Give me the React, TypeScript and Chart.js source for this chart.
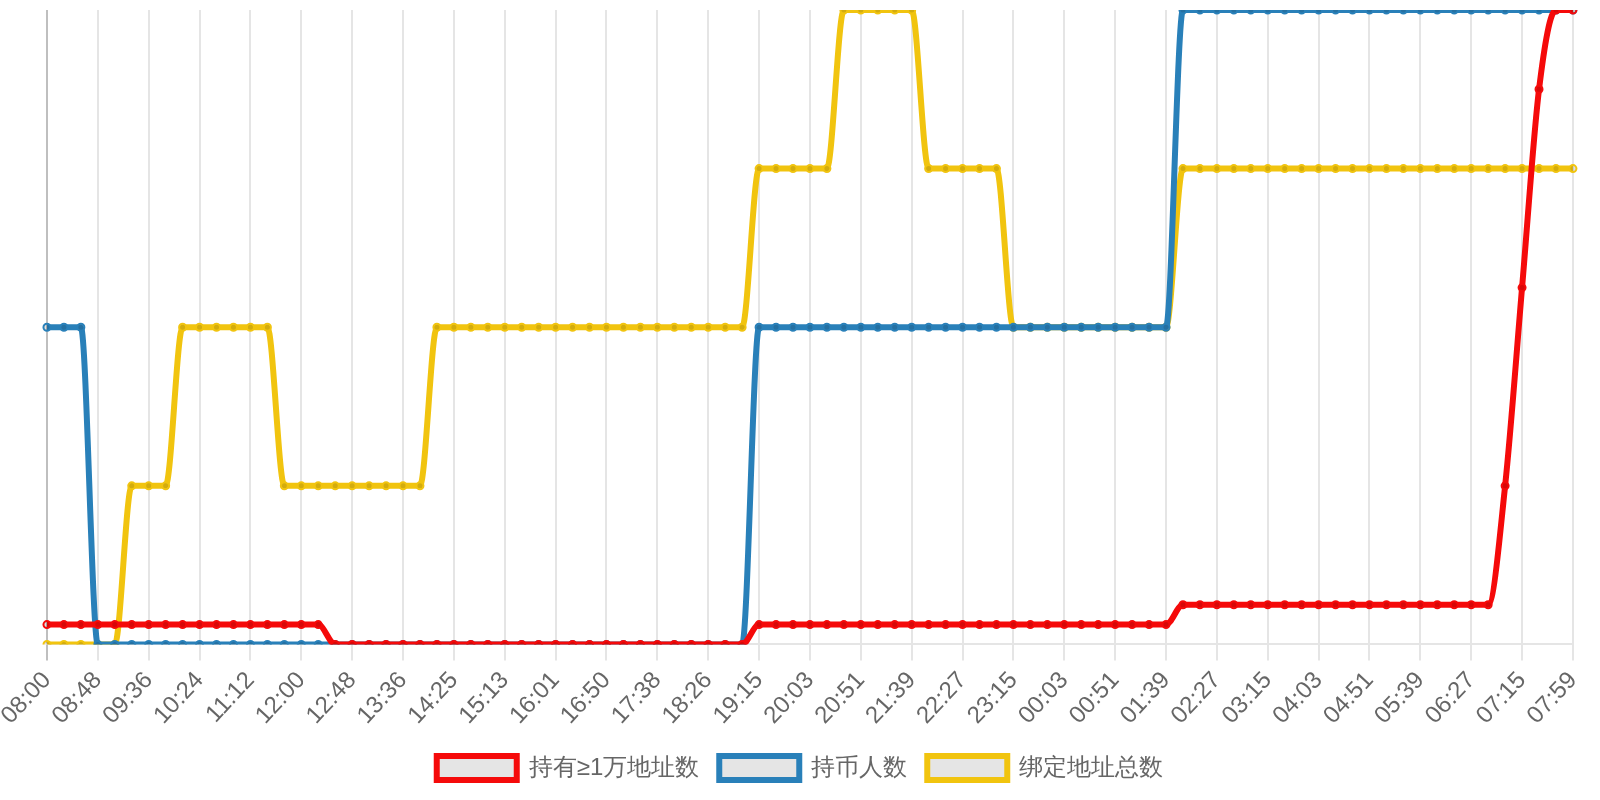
import React, { useEffect, useRef } from 'react';
import { Chart, registerables } from 'chart.js';

Chart.register(...registerables);

// time labels, one point every ~16 minutes over 24h
const timeLabels = [
  '08:00', '08:16', '08:32', '08:48', '09:04', '09:20', '09:36', '09:52', '10:08',
  '10:24', '10:40', '10:56', '11:12', '11:28', '11:44', '12:00', '12:16', '12:32',
  '12:48', '13:04', '13:20', '13:36', '13:52', '14:09', '14:25', '14:41', '14:57',
  '15:13', '15:29', '15:45', '16:01', '16:17', '16:34', '16:50', '17:06', '17:22',
  '17:38', '17:54', '18:10', '18:26', '18:42', '18:59', '19:15', '19:31', '19:47',
  '20:03', '20:19', '20:35', '20:51', '21:07', '21:23', '21:39', '21:55', '22:11',
  '22:27', '22:43', '22:59', '23:15', '23:31', '23:47', '00:03', '00:19', '00:35',
  '00:51', '01:07', '01:23', '01:39', '01:55', '02:11', '02:27', '02:43', '02:59',
  '03:15', '03:31', '03:47', '04:03', '04:19', '04:35', '04:51', '05:07', '05:23',
  '05:39', '05:55', '06:11', '06:27', '06:43', '06:59', '07:15', '07:30', '07:44',
  '07:59',
];

const seriesNames = ['持有≥1万地址数', '持币人数', '绑定地址总数'];

// 持有≥1万地址数
const bigHolders = [
  163, 163, 163, 163, 163, 163, 163, 163, 163, 163, 163, 163, 163, 163, 163, 163, 163,
  162, 162, 162, 162, 162, 162, 162, 162, 162, 162, 162, 162, 162, 162, 162, 162, 162,
  162, 162, 162, 162, 162, 162, 162, 162,
  163, 163, 163, 163, 163, 163, 163, 163, 163, 163, 163, 163, 163, 163, 163, 163, 163,
  163, 163, 163, 163, 163, 163, 163, 163,
  164, 164, 164, 164, 164, 164, 164, 164, 164, 164, 164, 164, 164, 164, 164, 164, 164,
  164, 164,
  170, 180, 190, 194, 194,
];

// 持币人数
const holders = [
  1188, 1188, 1188,
  1187, 1187, 1187, 1187, 1187, 1187, 1187, 1187, 1187, 1187, 1187, 1187, 1187, 1187,
  1187, 1187, 1187, 1187, 1187, 1187, 1187, 1187, 1187, 1187, 1187, 1187, 1187, 1187,
  1187, 1187, 1187, 1187, 1187, 1187, 1187, 1187, 1187, 1187, 1187,
  1188, 1188, 1188, 1188, 1188, 1188, 1188, 1188, 1188, 1188, 1188, 1188, 1188, 1188,
  1188, 1188, 1188, 1188, 1188, 1188, 1188, 1188, 1188, 1188, 1188,
  1189, 1189, 1189, 1189, 1189, 1189, 1189, 1189, 1189, 1189, 1189, 1189, 1189, 1189,
  1189, 1189, 1189, 1189, 1189, 1189, 1189, 1189, 1189, 1189,
];

// 绑定地址总数
const boundTotal = [
  2046, 2046, 2046, 2046, 2046,
  2047, 2047, 2047,
  2048, 2048, 2048, 2048, 2048, 2048,
  2047, 2047, 2047, 2047, 2047, 2047, 2047, 2047, 2047,
  2048, 2048, 2048, 2048, 2048, 2048, 2048, 2048, 2048, 2048, 2048, 2048, 2048, 2048,
  2048, 2048, 2048, 2048, 2048,
  2049, 2049, 2049, 2049, 2049,
  2050, 2050, 2050, 2050, 2050,
  2049, 2049, 2049, 2049, 2049,
  2048, 2048, 2048, 2048, 2048, 2048, 2048, 2048, 2048, 2048,
  2049, 2049, 2049, 2049, 2049, 2049, 2049, 2049, 2049, 2049, 2049, 2049, 2049, 2049,
  2049, 2049, 2049, 2049, 2049, 2049, 2049, 2049, 2049, 2049,
];

const seriesColors = ['#f50a0a', '#2980b9', '#f1c40f'];

function makeDataset(label: string, data: number[], color: string, axis: string) {
  return {
    label,
    data,
    yAxisID: axis,
    borderColor: color,
    backgroundColor: 'rgba(0,0,0,0.1)',
    borderWidth: 6,
    fill: false,
    cubicInterpolationMode: 'monotone' as const,
    pointRadius: 3.5,
    pointBorderWidth: 2,
    pointBorderColor: color,
    pointBackgroundColor: 'rgba(0,0,0,0.12)',
  };
}

function hiddenAxis(data: number[]) {
  return { display: false, min: Math.min(...data), max: Math.max(...data) };
}

function HoldersChart() {
  const canvasRef = useRef<HTMLCanvasElement>(null);
  useEffect(() => {
    if (!canvasRef.current) return;
    const chart = new Chart(canvasRef.current, {
      type: 'line',
      data: {
        labels: timeLabels,
        datasets: [
          makeDataset(seriesNames[0], bigHolders, seriesColors[0], 'y0'),
          makeDataset(seriesNames[1], holders, seriesColors[1], 'y1'),
          makeDataset(seriesNames[2], boundTotal, seriesColors[2], 'y2'),
        ],
      },
      options: {
        animation: false,
        responsive: true,
        maintainAspectRatio: false,
        layout: { padding: { top: 10, bottom: 10 } },
        plugins: {
          tooltip: { enabled: false },
          legend: {
            position: 'bottom',
            labels: {
              color: '#666',
              font: { size: 24 },
              boxWidth: 80,
              boxHeight: 24,
              padding: 20,
            },
          },
        },
        scales: {
          x: {
            grid: {
              color: (ctx: any) =>
                ctx.index === 0 ? 'rgba(0,0,0,0.25)' : ctx.index % 3 === 0 ? 'rgba(0,0,0,0.1)' : 'rgba(0,0,0,0)',
              lineWidth: 2,
              tickLength: 16,
            },
            border: { color: 'rgba(0,0,0,0.1)', width: 2 },
            ticks: {
              autoSkip: false,
              minRotation: 47,
              maxRotation: 47,
              padding: 6,
              color: '#666',
              font: { size: 24 },
              callback: (_v: any, i: number) => (i % 3 === 0 ? timeLabels[i] : ''),
            },
          },
          y0: hiddenAxis(bigHolders),
          y1: hiddenAxis(holders),
          // invisible right axis, only keeps a margin on the right of the plot
          y2: {
            ...hiddenAxis(boundTotal),
            display: true,
            position: 'right',
            ticks: { display: false },
            grid: { display: false },
            border: { display: false },
            afterFit: (axis: any) => {
              axis.width = 24;
            },
          },
        },
      },
    });
    return () => chart.destroy();
  }, []);
  return <canvas ref={canvasRef} />;
}

export default function App() {
  useEffect(() => {
    document.body.style.margin = '0';
  }, []);
  return (
    <div style={{ width: 1600, height: 800, position: 'relative', background: '#fff' }}>
      <HoldersChart />
    </div>
  );
}
